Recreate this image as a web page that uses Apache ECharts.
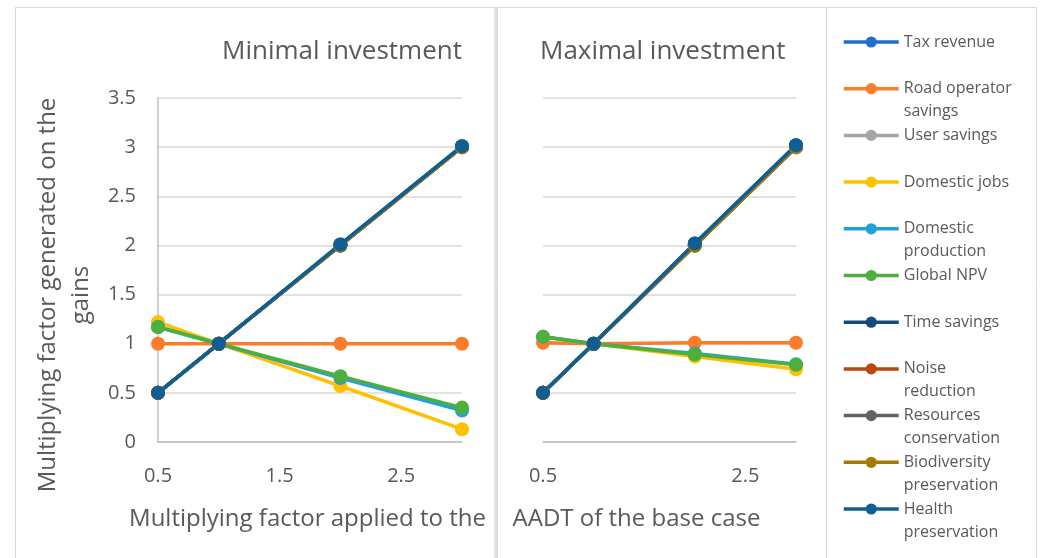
<!DOCTYPE html>
<html><head><meta charset="utf-8">
<script src="https://cdn.jsdelivr.net/npm/echarts@6/dist/echarts.min.js"></script>
<style>html,body{margin:0;padding:0;background:#fff}#c{width:1040px;height:558px}</style>
</head><body><div id="c"></div>
<script>
// ---- data ----
const xValues = [0.5, 1, 2, 3];
const seriesNames = ['Tax revenue', 'Road operator savings', 'User savings', 'Domestic jobs', 'Domestic production', 'Global NPV', 'Time savings', 'Noise reduction', 'Resources conservation', 'Biodiversity preservation', 'Health preservation'];
const legendLabels = ['Tax revenue', 'Road operator\nsavings', 'User savings', 'Domestic jobs', 'Domestic\nproduction', 'Global NPV', 'Time savings', 'Noise\nreduction', 'Resources\nconservation', 'Biodiversity\npreservation', 'Health\npreservation'];
const seriesColors = ['#1f6fc6', '#fb7d2b', '#a5a5a5', '#ffc000', '#22a0dc', '#4caf3e', '#174a7c', '#b8480d', '#636363', '#a67a00', '#0f5f94'];

const minTaxRevenue = [0.5, 1, 2, 3];
const minRoadOperator = [1, 1, 1, 1];
const minUserSavings = [0.5, 1, 2, 3];
const minDomesticJobs = [1.22, 1, 0.57, 0.13];
const minDomesticProduction = [1.17, 1, 0.65, 0.32];
const minGlobalNPV = [1.17, 1, 0.67, 0.35];
const minTimeSavings = [0.5, 1, 2.01, 3.01];
const minNoiseReduction = [0.5, 1, 2, 3];
const minResourcesConservation = [0.5, 1, 2, 3];
const minBiodiversity = [0.5, 1, 2, 3];
const minHealth = [0.5, 1, 2.01, 3.01];

const maxTaxRevenue = [0.5, 1, 2, 3];
const maxRoadOperator = [1.01, 1, 1.01, 1.01];
const maxUserSavings = [0.5, 1, 2, 3];
const maxDomesticJobs = [1.07, 1, 0.87, 0.74];
const maxDomesticProduction = [1.07, 1, 0.9, 0.79];
const maxGlobalNPV = [1.07, 1, 0.89, 0.785];
const maxTimeSavings = [0.5, 1, 2.02, 3.02];
const maxNoiseReduction = [0.5, 1, 2, 3];
const maxResourcesConservation = [0.5, 1, 2, 3];
const maxBiodiversity = [0.5, 1, 2, 3];
const maxHealth = [0.5, 1, 2.02, 3.02];

const minimalSets = [minTaxRevenue, minRoadOperator, minUserSavings, minDomesticJobs, minDomesticProduction, minGlobalNPV, minTimeSavings, minNoiseReduction, minResourcesConservation, minBiodiversity, minHealth];
const maximalSets = [maxTaxRevenue, maxRoadOperator, maxUserSavings, maxDomesticJobs, maxDomesticProduction, maxGlobalNPV, maxTimeSavings, maxNoiseReduction, maxResourcesConservation, maxBiodiversity, maxHealth];

const panelTitles = ['Minimal investment', 'Maximal investment'];
const xNames = ['Multiplying factor applied to the', 'AADT of the base case'];
const yName = 'Multiplying factor generated on the\ngains';

// ---- chart ----
const FONT = 'Open Sans';
const TXT = '#595959';
const chart = echarts.init(document.getElementById('c'), null, {renderer: 'canvas'});

function makeSeries(sets, p) {
  return sets.map((arr, i) => ({
    name: seriesNames[i], type: 'line', xAxisIndex: p, yAxisIndex: p,
    data: xValues.map((x, k) => [x, arr[k]]),
    symbol: 'circle', symbolSize: 14, showSymbol: true,
    lineStyle: {width: 3.5, color: seriesColors[i]},
    itemStyle: {color: seriesColors[i]},
    emphasis: {disabled: true}
  }));
}

function xAxisCfg(p, interval) {
  return {
    type: 'value', gridIndex: p, min: 0.5, max: 3, interval: interval,
    axisLine: {show: true, onZero: false, lineStyle: {color: '#bfbfbf', width: 1.5}},
    axisTick: {show: false}, splitLine: {show: false},
    axisLabel: {color: TXT, fontSize: 20, fontFamily: FONT, margin: 24, showMaxLabel: false},
    name: xNames[p], nameLocation: 'middle', nameGap: 65,
    nameTextStyle: {color: TXT, fontSize: 24, fontFamily: FONT, padding: p === 1 ? [0, 66, 0, 0] : [0, 5, 0, 0]}
  };
}

const option = {
  animation: false,
  backgroundColor: '#fff',
  textStyle: {fontFamily: FONT},
  title: [
    {text: panelTitles[0], right: 578, top: 39, padding: 0, textStyle: {fontSize: 26, fontWeight: 'normal', color: TXT, fontFamily: FONT}},
    {text: panelTitles[1], left: 540, top: 39, padding: 0, textStyle: {fontSize: 26, fontWeight: 'normal', color: TXT, fontFamily: FONT}}
  ],
  graphic: {elements: [
    {type: 'rect', z: -10, shape: {x: 15.5, y: 7.5, width: 479, height: 600}, style: {fill: 'none', stroke: '#d9d9d9', lineWidth: 1}},
    {type: 'rect', z: -10, shape: {x: 494, y: 7, width: 4, height: 600}, style: {fill: '#e2e2e2'}},
    {type: 'rect', z: -10, shape: {x: 497.5, y: 7.5, width: 329, height: 600}, style: {fill: 'none', stroke: '#d9d9d9', lineWidth: 1}},
    {type: 'rect', z: -10, shape: {x: 826.5, y: 7.5, width: 210, height: 600}, style: {fill: 'none', stroke: '#d9d9d9', lineWidth: 1}}
  ]},
  legend: {
    orient: 'vertical', left: 842, top: 7.5, padding: 0,
    itemWidth: 55, itemHeight: 14, itemGap: -22.3,
    selectedMode: false,
    lineStyle: {width: 3.5},
    data: seriesNames,
    formatter: function (name) {
      const parts = legendLabels[seriesNames.indexOf(name)].split('\n');
      return ' \n' + parts[0] + '\n' + (parts[1] || ' ');
    },
    textStyle: {color: TXT, fontSize: 16, lineHeight: 23, fontFamily: FONT}
  },
  grid: [
    {left: 158, top: 98, width: 304, height: 344},
    {left: 543, top: 98, width: 253, height: 344}
  ],
  xAxis: [xAxisCfg(0, 1), xAxisCfg(1, 2)],
  yAxis: [
    {type: 'value', gridIndex: 0, min: 0, max: 3.5, interval: 0.5,
     axisLine: {show: true, lineStyle: {color: '#bfbfbf', width: 1.5}}, axisTick: {show: false},
     splitLine: {show: true, lineStyle: {color: '#d9d9d9', width: 1.5}},
     axisLabel: {color: TXT, fontSize: 20, fontFamily: FONT, margin: 22},
     name: yName, nameLocation: 'middle', nameRotate: 90, nameGap: 60,
     nameTextStyle: {color: TXT, fontSize: 24, lineHeight: 33, fontFamily: FONT, align: 'center', padding: [0, 50, 0, 0]}},
    {type: 'value', gridIndex: 1, min: 0, max: 3.5, interval: 0.5,
     axisLine: {show: false}, axisTick: {show: false}, axisLabel: {show: false},
     splitLine: {show: true, lineStyle: {color: '#d9d9d9', width: 1.5}}}
  ],
  series: makeSeries(minimalSets, 0).concat(makeSeries(maximalSets, 1))
};
chart.setOption(option);
</script></body></html>
